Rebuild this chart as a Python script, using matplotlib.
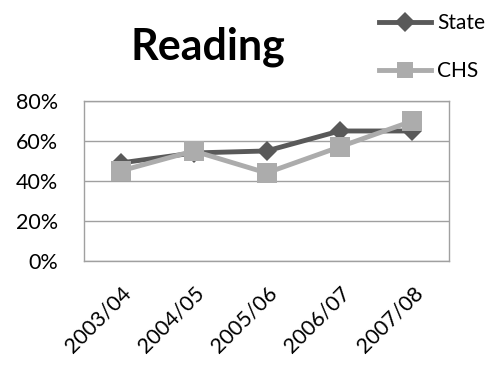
import matplotlib.pyplot as plt
from matplotlib.ticker import PercentFormatter
from matplotlib.lines import Line2D

plt.rcParams['font.family'] = ['Lato', 'DejaVu Sans']

years = ['2003/04', '2004/05', '2005/06', '2006/07', '2007/08']
state = [49, 54, 55, 65, 65]
chs = [45, 55, 44, 57, 70]

fig = plt.figure(figsize=(4.95, 3.70), dpi=100)
ax = fig.add_axes([0.170, 0.295, 0.737, 0.432])

x = range(len(years))
ax.plot(x, state, color='#595959', lw=3.5, marker='D', ms=10,
        markeredgewidth=0, zorder=3)
ax.plot(x, chs, color='#acacac', lw=3.5, marker='s', ms=14,
        markeredgewidth=0, zorder=4)

ax.set_xlim(-0.5, len(years) - 0.5)
ax.set_ylim(0, 80)
ax.set_yticks([0, 20, 40, 60, 80])
ax.yaxis.set_major_formatter(PercentFormatter(decimals=0))
ax.set_xticks(list(x))
ax.set_xticklabels(years, rotation=45, ha='right', rotation_mode='anchor')
ax.tick_params(length=0, labelsize=15.5)
ax.tick_params(axis='y', pad=19)
ax.tick_params(axis='x', pad=16)
ax.grid(axis='y', color='#a0a0a0', lw=1)
ax.set_axisbelow(True)
for s in ax.spines.values():
    s.set_color('#a0a0a0')
    s.set_linewidth(1)

fig.text(0.42, 0.838, 'Reading', fontsize=31, fontweight='bold',
         ha='center', va='baseline')

handles = [
    Line2D([], [], color='#595959', lw=3.5, marker='D', ms=10, markeredgewidth=0),
    Line2D([], [], color='#acacac', lw=3.5, marker='s', ms=12, markeredgewidth=0),
]
fig.legend(handles, ['State', 'CHS'], loc='upper left',
           bbox_to_anchor=(0.728, 1.015), frameon=False, fontsize=15,
           handlelength=2.5, handletextpad=0.3, labelspacing=1.35)

fig.savefig('out.png', dpi=100, facecolor='white')
